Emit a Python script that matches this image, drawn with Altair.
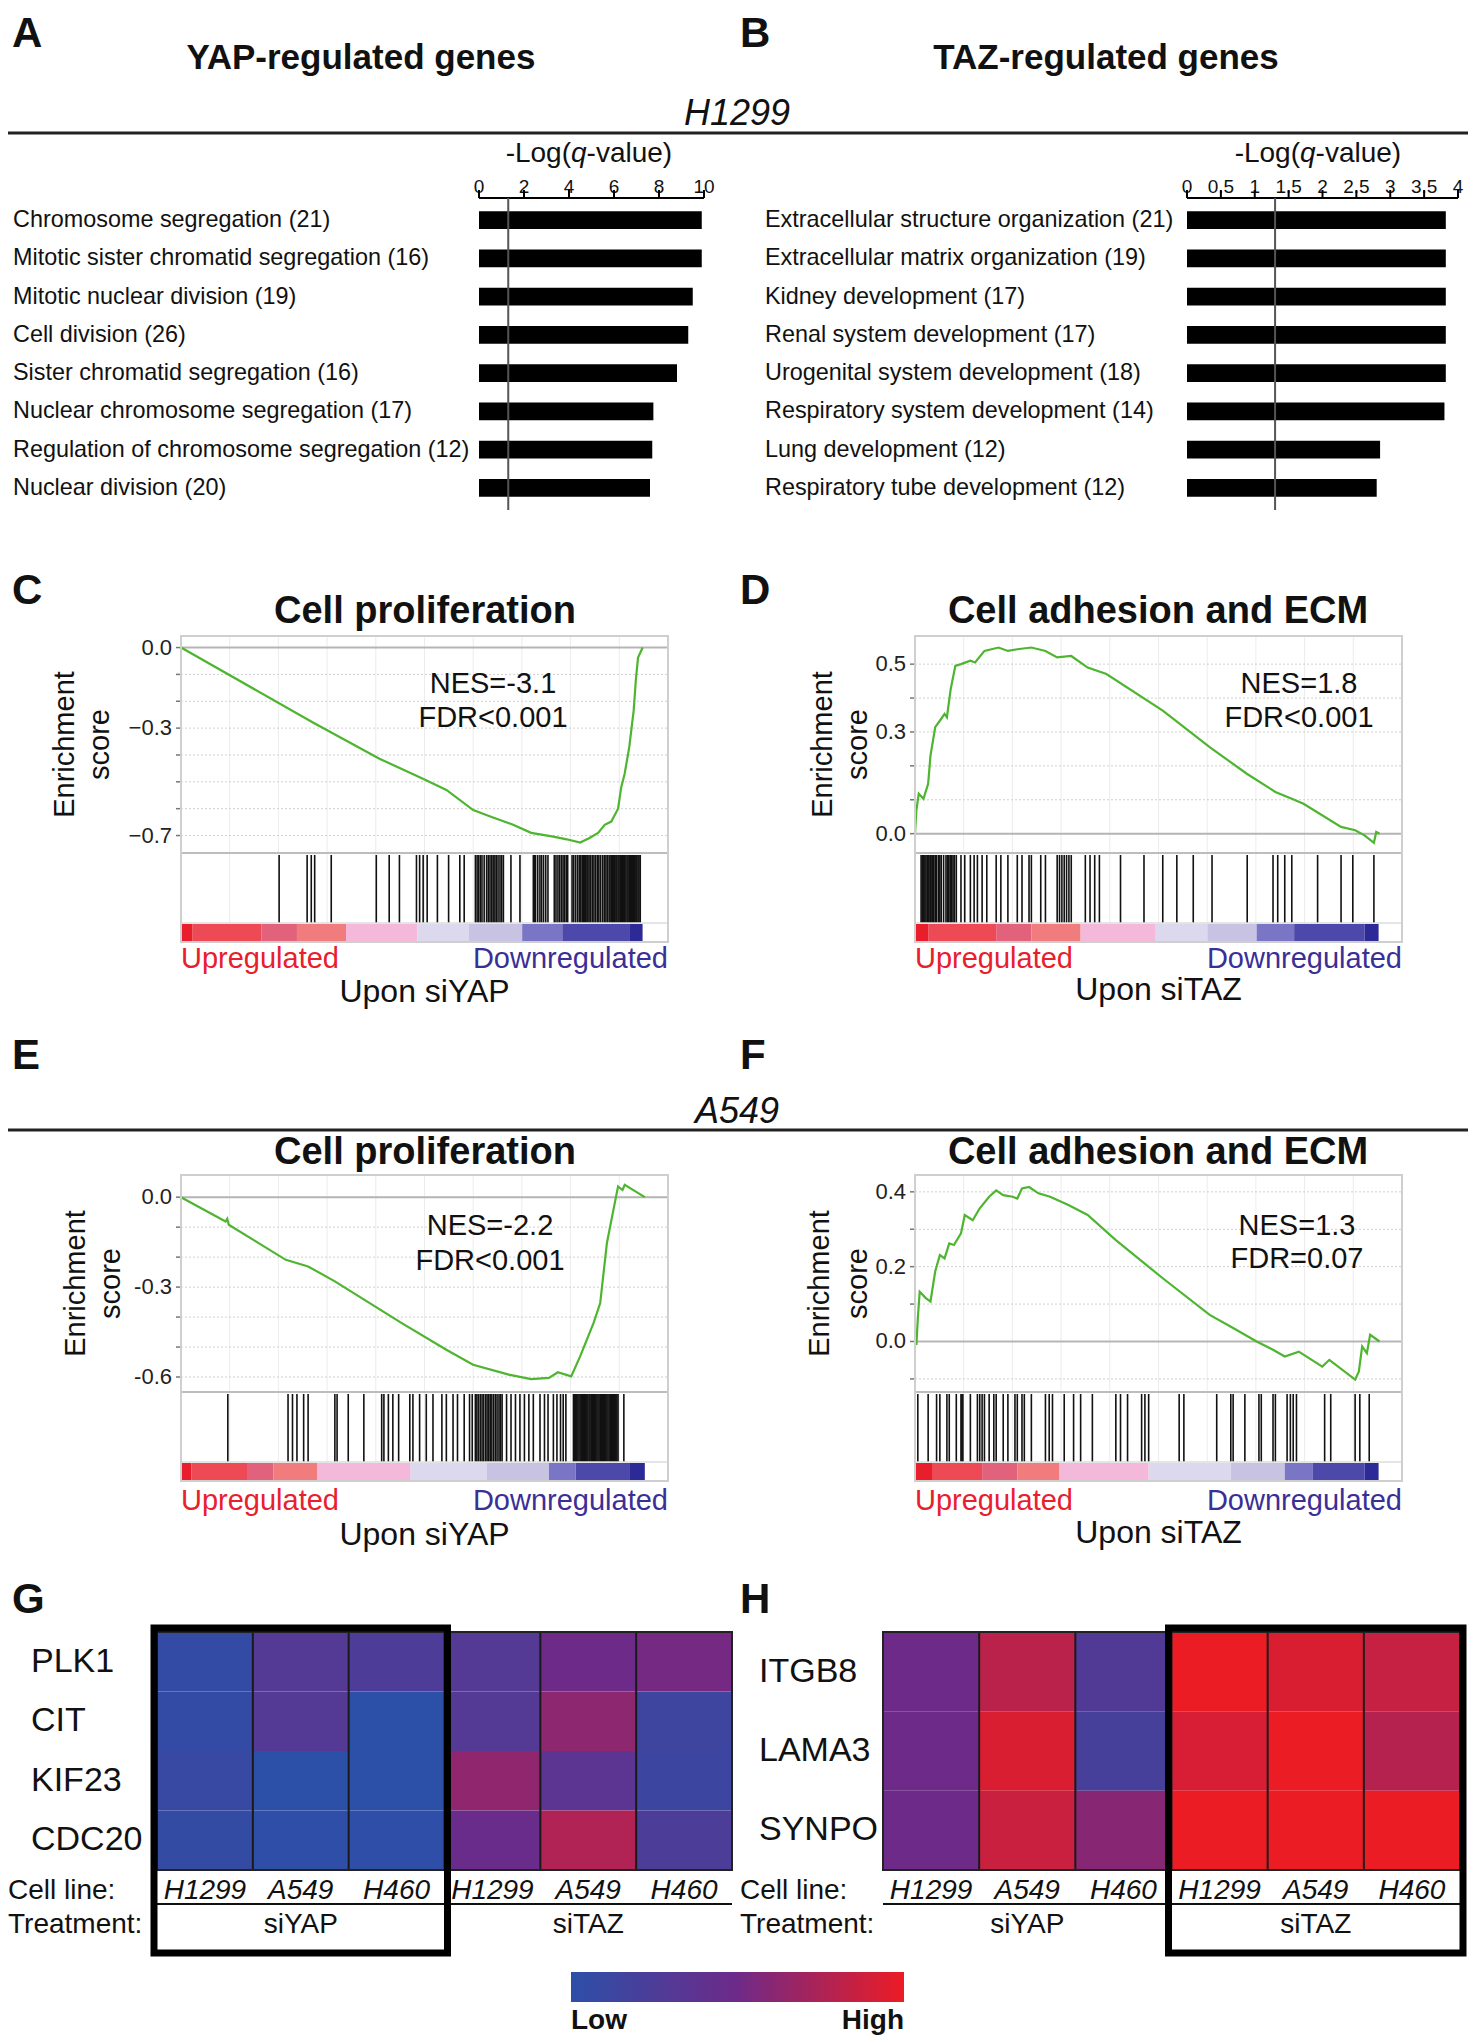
import altair as alt
import pandas as pd

FONT = "Liberation Sans"

# ---------------- data: panels A / B ----------------
TERMS_A = ["Chromosome segregation (21)", "Mitotic sister chromatid segregation (16)",
           "Mitotic nuclear division (19)", "Cell division (26)",
           "Sister chromatid segregation (16)", "Nuclear chromosome segregation (17)",
           "Regulation of chromosome segregation (12)", "Nuclear division (20)"]
LOGQ_A = [9.9, 9.9, 9.5, 9.3, 8.8, 7.75, 7.7, 7.6]
TERMS_B = ["Extracellular structure organization (21)", "Extracellular matrix organization (19)",
           "Kidney development (17)", "Renal system development (17)",
           "Urogenital system development (18)", "Respiratory system development (14)",
           "Lung development (12)", "Respiratory tube development (12)"]
LOGQ_B = [3.82, 3.82, 3.82, 3.82, 3.82, 3.80, 2.85, 2.80]
Q_THRESHOLD = 1.3
AXIS_A = [0, 2, 4, 6, 8, 10]
AXIS_B = [0, 0.5, 1, 1.5, 2, 2.5, 3, 3.5, 4]

# ---------------- data: GSEA panels ----------------
RANK_MAX = 20000
XGRID = [2000, 4000, 6000, 8000, 10000, 12000, 14000, 16000, 18000]
SHADE_SEQ = ["r4", "r3", "r2", "r1", "p", "l1", "l2", "b1", "b2", "b3"]
SHADE_COLORS = ["#e81e2c", "#ee4a55", "#e2617b", "#f07c7e", "#f4b8da",
                "#dcd8ee", "#c9c3e3", "#7b75c5", "#4d49ab", "#2b2a97"]

ES_C_RANK = [0, 5400, 8150, 9980, 10900, 12000, 12730, 13640, 14380, 15290, 15840, 16390,
             16760, 17130, 17400, 17670, 17950, 18080, 18220, 18410, 18590, 18680, 18770, 18960]
ES_C = [0.0, -0.278, -0.414, -0.49, -0.53, -0.605, -0.63, -0.66, -0.69, -0.704, -0.714, -0.726,
        -0.71, -0.69, -0.66, -0.648, -0.60, -0.52, -0.47, -0.37, -0.235, -0.12, -0.037, 0.0]
HITS_C = [4030, 5180, 5350, 5490, 6170, 8020, 8550, 8970, 9670, 9800, 9945, 10110, 10530,
          10990, 11450, 11630, 12090, 12160, 12220, 12290, 12360, 12450, 12550, 12620, 12690,
          12760, 12820, 12890, 12950, 13020, 13100, 13170, 13240, 13550, 13920, 14470, 14520,
          14560, 14650, 14740, 14810, 14890, 14980, 15070, 15330, 15400, 15480, 15550, 15620,
          15690, 15750, 15820, 15880, 16060, 16130, 16210, 16290, 16360, 16420, 16480, 16530,
          16580, 16620, 16670, 16710, 16760, 16830, 16900, 16960, 17030, 17100, 17160, 17230,
          17310, 17380, 17450, 17510, 17580, 17620, 17670, 17720, 17770, 17810, 17860, 17900,
          17950, 17990, 18040, 18080, 18130, 18170, 18220, 18270, 18320, 18360, 18410, 18450,
          18500, 18540, 18590, 18630, 18680, 18720, 18770, 18810, 18860]
SEG_C = [0, 458, 3297, 4762, 6777, 9707, 11813, 14011, 15659, 18407, 18956]

ES_D_RANK = [0, 58, 154, 347, 540, 636, 829, 1021, 1214, 1310, 1465, 1657, 1888, 2274, 2467,
             2852, 3430, 3815, 4200, 4779, 5357, 5839, 6417, 7091, 7862, 10175, 12102, 13643,
             14800, 15474, 15956, 17497, 18075, 18460, 18846, 18942, 19077]
ES_D = [0.0, 0.069, 0.118, 0.103, 0.147, 0.230, 0.314, 0.333, 0.353, 0.343, 0.426, 0.495,
        0.500, 0.510, 0.505, 0.539, 0.549, 0.539, 0.544, 0.549, 0.539, 0.520, 0.524, 0.490,
        0.471, 0.363, 0.255, 0.176, 0.123, 0.103, 0.088, 0.020, 0.010, -0.005, -0.027, 0.005, 0.0]
HITS_D = [250, 300, 347, 405, 450, 501, 540, 578, 636, 694, 730, 771, 830, 886, 964, 1020, 1079,
          1175, 1272, 1330, 1387, 1445, 1503, 1561, 1619, 1696, 1888, 2043, 2274, 2428, 2563,
          2756, 2948, 3334, 3526, 3815, 4201, 4394, 4683, 4779, 5164, 5357, 5839, 5935, 6032,
          6128, 6224, 6321, 6417, 6995, 7188, 7380, 7573, 8440, 9404, 10175, 10753, 11427,
          12198, 13643, 14703, 14896, 15185, 15474, 16534, 17497, 17979, 18846]
SEG_D = [0, 540, 3334, 4779, 6802, 9886, 12005, 14029, 15570, 18461, 19039]

ES_E_RANK = [0, 1832, 1900, 1960, 4304, 5220, 6319, 9066, 10897, 11996, 13461, 14377, 15110,
             15476, 16025, 16392, 16941, 17216, 17491, 17949, 18132, 18223, 19048]
ES_E = [0.0, -0.081, -0.072, -0.092, -0.209, -0.231, -0.281, -0.42, -0.509, -0.559, -0.592,
        -0.607, -0.603, -0.584, -0.598, -0.531, -0.42, -0.353, -0.153, 0.036, 0.024, 0.041, 0.0]
HITS_E = [1923, 4396, 4579, 4762, 5037, 5220, 6319, 6410, 6868, 7509, 8242, 8333, 8516, 8700,
          8938, 9396, 9524, 9799, 10073, 10348, 10714, 10897, 11172, 11355, 11630, 11850, 11960,
          12088, 12150, 12216, 12290, 12363, 12430, 12509, 12570, 12637, 12700, 12766, 12840,
          12912, 12980, 13059, 13120, 13187, 13370, 13553, 13736, 13919, 14103, 14286, 14469,
          14743, 14927, 15073, 15293, 15439, 15586, 15696, 15806, 16117, 16160, 16209, 16255,
          16300, 16345, 16392, 16440, 16484, 16530, 16575, 16620, 16667, 16710, 16758, 16800,
          16850, 16895, 16941, 16985, 17033, 17080, 17125, 17170, 17216, 17260, 17308, 17350,
          17399, 17445, 17491, 17535, 17582, 17630, 17674, 17720, 17766, 17810, 17857, 17900,
          17949, 18187]
SEG_E = [0, 421, 2747, 3791, 5586, 9432, 12546, 15110, 16209, 18407, 19048]

ES_F_RANK = [0, 58, 116, 193, 443, 636, 829, 1021, 1214, 1407, 1599, 1888, 2043, 2370, 2659,
             3045, 3334, 3622, 4008, 4201, 4394, 4683, 5068, 5550, 6321, 7091, 8248, 10175,
             12102, 13065, 14029, 14703, 15185, 15763, 16727, 17016, 18075, 18229, 18364, 18557,
             18692, 19077]
ES_F = [0.0, -0.009, 0.062, 0.133, 0.116, 0.107, 0.187, 0.231, 0.222, 0.262, 0.258, 0.289,
        0.338, 0.324, 0.356, 0.387, 0.404, 0.391, 0.387, 0.382, 0.409, 0.413, 0.396, 0.387,
        0.364, 0.338, 0.271, 0.169, 0.071, 0.036, 0.0, -0.022, -0.04, -0.027, -0.067, -0.049,
        -0.102, -0.08, -0.013, -0.031, 0.018, 0.0]
HITS_F = [116, 540, 886, 1021, 1310, 1407, 1696, 1888, 1927, 1966, 2274, 2563, 2659, 2756,
          2852, 3045, 3237, 3334, 3623, 3815, 4105, 4201, 4394, 4490, 4779, 5357, 5511, 5646,
          6128, 6513, 6802, 7284, 8248, 8440, 8729, 9307, 9442, 9596, 10849, 11042, 12391,
          12969, 13065, 13547, 14125, 14221, 14703, 14800, 15281, 15416, 15532, 15666, 16823,
          17073, 18075, 18268, 18654]
SEG_F = [0, 732, 2756, 4201, 5935, 9596, 12969, 15185, 16341, 18461, 19039]

# ---------------- data: heatmaps ----------------
TREATMENTS = ["siYAP", "siTAZ"]
CELL_LINES = ["H1299", "A549", "H460"]
G_GENES = ["PLK1", "CIT", "KIF23", "CDC20"]
G_VALUES = [[0.05, 0.30, 0.25, 0.30, 0.50, 0.53],
            [0.05, 0.30, 0.00, 0.30, 0.62, 0.14],
            [0.08, 0.00, 0.00, 0.63, 0.36, 0.12],
            [0.06, 0.02, 0.02, 0.47, 0.76, 0.24]]
H_GENES = ["ITGB8", "LAMA3", "SYNPO"]
H_VALUES = [[0.50, 0.80, 0.28, 1.00, 0.93, 0.85],
            [0.50, 0.93, 0.20, 0.92, 1.00, 0.78],
            [0.50, 0.86, 0.60, 1.00, 1.00, 1.00]]
HEAT_COLORS = ["#2c4fa8", "#6e2a88", "#ec1c24"]

ONE = pd.DataFrame({"_": [0]})
W_TOTAL, H_TOTAL = 1460, 2028


def txt(s, x, y, size, weight="normal", style="normal", align="left", color="#111",
        angle=None, baseline="alphabetic"):
    props = dict(text=s, align=align, baseline=baseline, fontSize=size,
                 fontWeight=weight, fontStyle=style, color=color, font=FONT)
    if angle is not None:
        props["angle"] = angle
    return alt.Chart(ONE).mark_text(**props).encode(x=alt.value(x), y=alt.value(y))


def hline(x1, x2, y, color, width):
    return alt.Chart(ONE).mark_rule(color=color, strokeWidth=width).encode(
        x=alt.value(x1), x2=alt.value(x2), y=alt.value(y))


def frame(x1, x2, y1, y2, color, width):
    return alt.Chart(ONE).mark_rect(filled=False, color=color, strokeWidth=width).encode(
        x=alt.value(x1), x2=alt.value(x2), y=alt.value(y1), y2=alt.value(y2))


def qlabel(qx, y):
    return [txt("-Log(", qx, y, 28, align="right"),
            txt("q", qx, y, 28, style="italic"),
            txt("-value)", qx + 15.6, y, 28)]


def letter(s, x, y):
    return txt(s, x, y, 42, "bold")


# ---------------- bar panels (A, B) ----------------
BAR_Y0, BAR_Y1, AXIS_Y = 193, 499, 190


def bar_panel(terms, vals, ticks, x0, x1, label_x):
    xs = alt.Scale(domain=[ticks[0], ticks[-1]], range=[x0, x1], nice=False, zero=False)
    ys = alt.Scale(domain=terms, range=[BAR_Y0, BAR_Y1], paddingInner=0.53, paddingOuter=0.265)
    df = pd.DataFrame({"term": terms, "q": vals, "q0": [0] * len(vals)})
    bars = alt.Chart(df).mark_bar(color="black").encode(
        x=alt.X("q:Q", scale=xs, axis=None), x2="q0:Q",
        y=alt.Y("term:N", scale=ys, axis=None))
    labels = alt.Chart(df).mark_text(align="left", baseline="middle", fontSize=23.4,
                                     color="#111", font=FONT).encode(
        x=alt.value(label_x), y=alt.Y("term:N", scale=ys, axis=None), text="term:N")
    tdf = pd.DataFrame({"t": ticks})
    tick_rules = alt.Chart(tdf).mark_rule(color="black", strokeWidth=2).encode(
        x=alt.X("t:Q", scale=xs, axis=None), y=alt.value(AXIS_Y - 8), y2=alt.value(AXIS_Y))
    tick_labels = alt.Chart(tdf).transform_calculate(lab="'' + datum.t").mark_text(
        baseline="bottom", fontSize=19, color="#111", font=FONT).encode(
        x=alt.X("t:Q", scale=xs, axis=None), y=alt.value(AXIS_Y - 1), text="lab:N")
    dom = alt.Chart(pd.DataFrame({"a": [ticks[0]], "b": [ticks[-1]]})).mark_rule(
        color="black", strokeWidth=2).encode(
        x=alt.X("a:Q", scale=xs, axis=None), x2="b:Q", y=alt.value(AXIS_Y))
    thr = alt.Chart(pd.DataFrame({"q": [Q_THRESHOLD]})).mark_rule(
        color="#555", strokeWidth=2).encode(
        x=alt.X("q:Q", scale=xs, axis=None), y=alt.value(AXIS_Y), y2=alt.value(BAR_Y1 + 3))
    return alt.layer(bars, labels, tick_labels, tick_rules, dom, thr)


# ---------------- GSEA panels ----------------
GW, GH, ES_H, HITS_B = 487, 306, 217, 287


def gsea(ox, oy, rank, es, hits, seg, ydom, yticks, ylabs, nes, fdr, tx, ty1, ty2,
         yt1, yt2, upon, up_y, upon_y, hyphen):
    xs = alt.Scale(domain=[0, RANK_MAX], range=[ox, ox + GW], nice=False, zero=False)
    ys = alt.Scale(domain=ydom, range=[oy + ES_H, oy], nice=False, zero=False)
    X = lambda f: alt.X(f, scale=xs, axis=None)
    Y = lambda f: alt.Y(f, scale=ys, axis=None)
    fmt = ("replace(format(datum.v, '.1f'), '\u2212', '-')" if hyphen
           else "format(datum.v, '.1f')")
    gx = alt.Chart(pd.DataFrame({"rank": XGRID})).mark_rule(color="#ececec", strokeWidth=1).encode(
        x=X("rank:Q"), y=alt.value(oy), y2=alt.value(oy + HITS_B))
    ydf = pd.DataFrame({"v": yticks})
    gy = alt.Chart(ydf).mark_rule(color="#d0d0d0", strokeWidth=1, strokeDash=[2, 2]).encode(
        y=Y("v:Q"), x=alt.value(ox), x2=alt.value(ox + GW))
    ty = alt.Chart(ydf).mark_rule(color="#777", strokeWidth=1.5).encode(
        y=Y("v:Q"), x=alt.value(ox - 5), x2=alt.value(ox))
    ly = alt.Chart(pd.DataFrame({"v": ylabs})).transform_calculate(lab=fmt).mark_text(
        align="right", baseline="middle", fontSize=22, color="#222", font=FONT).encode(
        y=Y("v:Q"), x=alt.value(ox - 9), text="lab:N")
    seg_df = pd.DataFrame({"start": seg[:-1], "end": seg[1:], "shade": SHADE_SEQ})
    cbar = alt.Chart(seg_df).mark_rect().encode(
        x=X("start:Q"), x2="end:Q", y=alt.value(oy + HITS_B + 1), y2=alt.value(oy + GH),
        fill=alt.Fill("shade:N", scale=alt.Scale(domain=SHADE_SEQ, range=SHADE_COLORS),
                      legend=None))
    hit = alt.Chart(pd.DataFrame({"rank": hits})).mark_rule(color="#111", strokeWidth=1.6).encode(
        x=X("rank:Q"), y=alt.value(oy + ES_H + 2), y2=alt.value(oy + HITS_B))
    zero = alt.Chart(pd.DataFrame({"v": [0.0]})).mark_rule(color="#b5b5b5", strokeWidth=2).encode(
        y=Y("v:Q"), x=alt.value(ox), x2=alt.value(ox + GW))
    line = alt.Chart(pd.DataFrame({"rank": rank, "es": es})).mark_line(
        color="#4db52f", strokeWidth=2.2).encode(x=X("rank:Q"), y=Y("es:Q"))
    return alt.layer(
        gx, gy, cbar, hit,
        hline(ox, ox + GW, oy + ES_H, "#bdbdbd", 2), hline(ox, ox + GW, oy + HITS_B, "#dddddd", 1.5),
        zero, line, ty, ly,
        frame(ox, ox + GW, oy, oy + GH, "#cfcfcf", 2),
        txt(nes, ox + tx, oy + ty1, 29, align="center"),
        txt(fdr, ox + tx, oy + ty2, 29, align="center"),
        txt("Enrichment", ox + yt1, oy + ES_H / 2, 29, align="center", angle=270),
        txt("score", ox + yt2, oy + ES_H / 2, 29, align="center", angle=270),
        txt("Upregulated", ox, oy + up_y, 29, color="#e8202e"),
        txt("Downregulated", ox + GW, oy + up_y, 29, align="right", color="#3a2f96"),
        txt(upon, ox + GW / 2, oy + upon_y, 32, align="center"))


# ---------------- heatmaps ----------------
KEYS = [f"{t}|{c}" for t in TREATMENTS for c in CELL_LINES]
LEGEND = alt.Legend(orient="none", legendX=563, legendY=1964, direction="horizontal",
                    gradientLength=333, gradientThickness=30, title=None, values=[0, 1],
                    labelExpr="datum.value <= 0 ? 'Low' : 'High'", labelFontSize=28,
                    labelFontWeight="bold", labelColor="#111", labelOffset=5,
                    gradientStrokeWidth=0)
HM_Y, HM_H = 1624, 238


def heatmap(ox, w, genes, values, gene_x, cap_x, box):
    oy, h = HM_Y, HM_H
    rows = []
    for g, vals in zip(genes, values):
        for k, v in zip(KEYS, vals):
            rows.append({"gene": g, "key": k, "value": v})
    df = pd.DataFrame(rows)
    xs = alt.Scale(domain=KEYS, range=[ox, ox + w], paddingInner=0, paddingOuter=0)
    ys = alt.Scale(domain=genes, range=[oy, oy + h], paddingInner=0, paddingOuter=0)
    rect = alt.Chart(df).mark_rect().encode(
        x=alt.X("key:N", scale=xs, axis=None), y=alt.Y("gene:N", scale=ys, axis=None),
        color=alt.Color("value:Q", scale=alt.Scale(domain=[0, 0.5, 1], range=HEAT_COLORS,
                                                   interpolate="rgb"),
                        legend=LEGEND))
    glab = alt.Chart(pd.DataFrame({"gene": genes})).mark_text(
        align="left", baseline="middle", fontSize=34, color="#111", font=FONT).encode(
        x=alt.value(gene_x), y=alt.Y("gene:N", scale=ys, axis=None), text="gene:N")
    seps = alt.Chart(pd.DataFrame({"key": KEYS[1:]})).mark_rule(
        color="#1a1a1a", strokeWidth=2).encode(
        x=alt.X("key:N", scale=xs, bandPosition=0, axis=None), y=alt.value(oy), y2=alt.value(oy + h))
    cl = alt.Chart(pd.DataFrame({"key": KEYS, "cell": CELL_LINES * 2})).mark_text(
        fontSize=28, fontStyle="italic", baseline="alphabetic", color="#111", font=FONT).encode(
        x=alt.X("key:N", scale=xs, axis=None), y=alt.value(oy + h + 29), text="cell:N")
    tr = alt.Chart(pd.DataFrame({"key": [KEYS[1], KEYS[4]], "t": TREATMENTS})).mark_text(
        fontSize=28, baseline="alphabetic", color="#111", font=FONT).encode(
        x=alt.X("key:N", scale=xs, axis=None), y=alt.value(oy + h + 63), text="t:N")
    panel = alt.layer(rect, seps, frame(ox, ox + w, oy, oy + h, "#222", 2), glab,
                      hline(ox, ox + w, oy + h + 34, "#111", 2), cl, tr,
                      txt("Cell line:", cap_x, oy + h + 29, 28),
                      txt("Treatment:", cap_x, oy + h + 63, 28))
    bx = alt.Chart(pd.DataFrame({"c0": [box[0]], "c1": [box[1]]})).mark_rect(
        filled=False, color="black", strokeWidth=7, xOffset=-3, x2Offset=3).encode(
        x=alt.X("c0:Q", scale=alt.Scale(domain=[0, 6], range=[ox, ox + w], nice=False, zero=False),
                axis=None),
        x2="c1:Q", y=alt.value(oy - 4), y2=alt.value(oy + h + 83))
    return [panel, bx]


layers = [
    letter("A", 4, 39), letter("B", 732, 39),
    txt("YAP-regulated genes", 353, 61, 35, "bold", align="center"),
    txt("TAZ-regulated genes", 1098, 61, 35, "bold", align="center"),
    txt("H1299", 729, 117, 36, style="italic", align="center"),
    hline(0, W_TOTAL, 125, "#222", 3),
] + qlabel(563, 154) + qlabel(1292, 154) + [
    bar_panel(TERMS_A, LOGQ_A, AXIS_A, 471, 696, 5),
    bar_panel(TERMS_B, LOGQ_B, AXIS_B, 1179, 1450, 757),
    letter("C", 4, 596), letter("D", 732, 596),
    txt("Cell proliferation", 417, 615, 38, "bold", align="center"),
    txt("Cell adhesion and ECM", 1150, 615, 38, "bold", align="center"),
    gsea(173, 628, ES_C_RANK, ES_C, HITS_C, SEG_C, [-0.765, 0.043],
         [0.0, -0.1, -0.2, -0.3, -0.4, -0.5, -0.6, -0.7], [0.0, -0.3, -0.7],
         "NES=-3.1", "FDR<0.001", 312, 57, 91, -107, -72, "Upon siYAP", 332, 366, False),
    gsea(907, 628, ES_D_RANK, ES_D, HITS_D, SEG_D, [-0.057, 0.583],
         [0.0, 0.1, 0.2, 0.3, 0.4, 0.5], [0.0, 0.3, 0.5],
         "NES=1.8", "FDR<0.001", 384, 57, 91, -83, -48, "Upon siTAZ", 332, 364, False),
    letter("E", 4, 1061), letter("F", 732, 1061),
    txt("A549", 729, 1115, 36, style="italic", align="center"),
    hline(0, W_TOTAL, 1122, "#222", 3),
    txt("Cell proliferation", 417, 1156, 38, "bold", align="center"),
    txt("Cell adhesion and ECM", 1150, 1156, 38, "bold", align="center"),
    gsea(173, 1167, ES_E_RANK, ES_E, HITS_E, SEG_E, [-0.650, 0.074],
         [0.0, -0.1, -0.2, -0.3, -0.4, -0.5, -0.6], [0.0, -0.3, -0.6],
         "NES=-2.2", "FDR<0.001", 309, 60, 95, -96, -61, "Upon siYAP", 335, 370, True),
    gsea(907, 1167, ES_F_RANK, ES_F, HITS_F, SEG_F, [-0.135, 0.445],
         [-0.1, 0.0, 0.1, 0.2, 0.3, 0.4], [0.0, 0.2, 0.4],
         "NES=1.3", "FDR=0.07", 382, 60, 93, -86, -48, "Upon siTAZ", 335, 368, True),
    letter("G", 4, 1605), letter("H", 732, 1605),
] + heatmap(149, 575, G_GENES, G_VALUES, 23, 0, (0, 3)) \
  + heatmap(875, 577, H_GENES, H_VALUES, 751, 732, (3, 6))

chart = alt.layer(*layers).resolve_scale(x="independent", y="independent").properties(
    width=W_TOTAL, height=H_TOTAL, padding=0,
    autosize=alt.AutoSizeParams(type="none")).configure(font=FONT).configure_view(strokeWidth=0)

chart.save("out.html", embed_options={"renderer": "svg", "actions": False})
